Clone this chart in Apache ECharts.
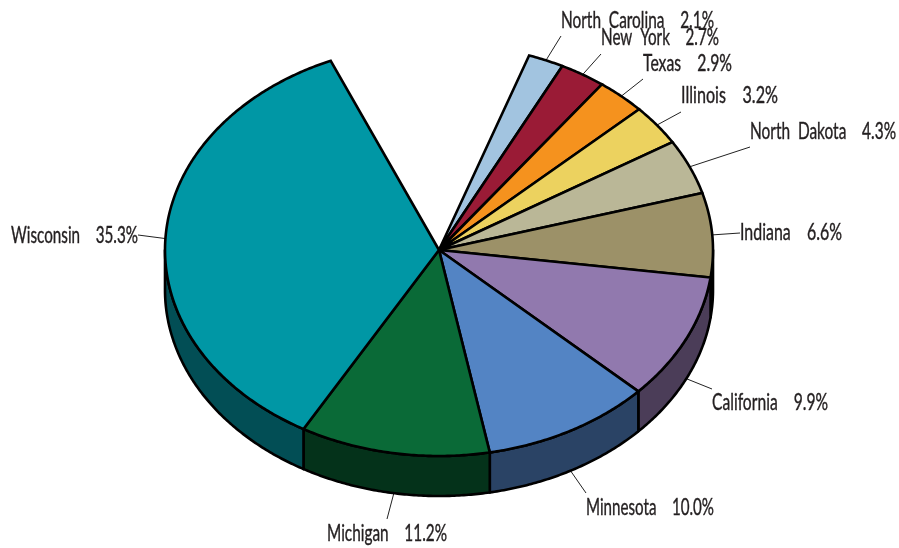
<!DOCTYPE html>
<html>
<head>
<meta charset="utf-8">
<title>Pie</title>
<script src="https://cdn.jsdelivr.net/npm/echarts@6/dist/echarts.min.js"></script>
<style>
  html, body { margin: 0; padding: 0; background: #fff; }
  #main { width: 899px; height: 548px; }
</style>
</head>
<body>
<div id="main"></div>
<script>
  // data, clockwise from the first slice
  const names = ['North Carolina', 'New York', 'Texas', 'Illinois', 'North Dakota', 'Indiana', 'California', 'Minnesota', 'Michigan', 'Wisconsin']
  const shares = [2.1, 2.7, 2.9, 3.2, 4.3, 6.6, 9.9, 10.0, 11.2, 35.3]
  const colors = ['#A2C4E0', '#9A1B36', '#F5921E', '#ECD25F', '#BAB797', '#9C9168', '#9179AE', '#5384C4', '#0A6A37', '#0097A5']
  const wallColors = ['#516270', '#4D0E1B', '#7A490F', '#76692F', '#5D5B4B', '#4F4A35', '#4B3D58', '#2A4365', '#04321A', '#024E55']

  // layout of the tilted pie
  const cx = 439
  const cy = 250
  const rx = 274
  const ry = 206
  const depth = 40
  const startDeg = 19.2
  // where each leader line ends, where its label starts and how wide the label is
  const leaderEnds = [[561, 36], [601, 54], [643, 79], [681, 112], [750, 147], [740, 233], [712, 389], [586, 493], [387, 519], [138, 235]]
  const labelStarts = [[561, 21], [601, 38], [643, 64], [681, 96], [750, 132], [740, 233], [712, 403], [586, 508], [327, 534], [11, 236]]
  const labelWidths = [153, 118, 89, 97, 146, 102, 116, 128, 120, 127]
  const labelFont = '23px Lato'

  const measure = document.createElement('canvas').getContext('2d')
  measure.font = labelFont

  const toDeg = v => echarts.number.linearMap(v, [0, 100], [0, 360])
  const rim = (deg, drop) => {
    const a = deg * Math.PI / 180
    return [cx + rx * Math.sin(a), cy - ry * Math.cos(a) + (drop || 0)]
  }
  const arc = (from, to, drop) => {
    const pts = []
    const n = Math.max(2, Math.ceil((to - from) * 2))
    for (let i = 0; i <= n; i++) {
      pts.push(rim(from + (to - from) * i / n, drop))
    }
    return pts
  }

  let sum = 0
  const rows = shares.map(v => {
    const row = [v, sum]
    sum += v
    return row
  })

  const renderItem = (params, api) => {
    const i = params.dataIndex
    const from = startDeg + toDeg(api.value(1))
    const to = from + toDeg(api.value(0))
    const mid = (from + to) / 2
    const children = []

    // rim wall, only the front half of the pie shows one
    const wallFrom = Math.max(from, 90)
    const wallTo = Math.min(to, 270)
    if (wallTo > wallFrom) {
      children.push({
        type: 'polygon',
        z2: 1,
        shape: { points: arc(wallFrom, wallTo, 0).concat(arc(wallFrom, wallTo, depth).reverse()) },
        style: { fill: wallColors[i], stroke: '#000', lineWidth: 2.6, lineJoin: 'round' }
      })
    }

    // top face
    children.push({
      type: 'polygon',
      z2: 2,
      shape: { points: [[cx, cy]].concat(arc(from, to, 0)) },
      style: { fill: colors[i], stroke: '#000', lineWidth: 2.6, lineJoin: 'miter', miterLimit: 10 }
    })

    // leader line, from the wall bottom on the front half
    const front = mid > 90 && mid < 270
    const p = rim(mid, front ? depth : 0)
    const end = leaderEnds[i]
    children.push({
      type: 'line',
      z2: 0,
      shape: { x1: p[0], y1: p[1], x2: end[0], y2: end[1] },
      style: { stroke: '#222', lineWidth: 1 }
    })

    // label, squeezed to the width it has in the chart
    const start = labelStarts[i]
    const text = names[i].replace(' ', '  ') + '    ' + shares[i].toFixed(1) + '%'
    children.push({
      type: 'text',
      z2: 3,
      x: start[0],
      y: start[1],
      scaleX: labelWidths[i] / measure.measureText(text).width,
      style: {
        x: 0,
        y: 0,
        text: text,
        fill: '#231F20',
        stroke: '#231F20',
        lineWidth: 0.4,
        font: labelFont,
        textAlign: 'left',
        textVerticalAlign: 'middle'
      }
    })

    return { type: 'group', children }
  }

  const chart = echarts.init(document.getElementById('main'))
  chart.setOption({
    animation: false,
    backgroundColor: '#fff',
    tooltip: { show: false },
    series: [
      {
        type: 'custom',
        coordinateSystem: 'none',
        renderItem: renderItem,
        data: rows,
        silent: true
      }
    ]
  })
</script>
</body>
</html>
